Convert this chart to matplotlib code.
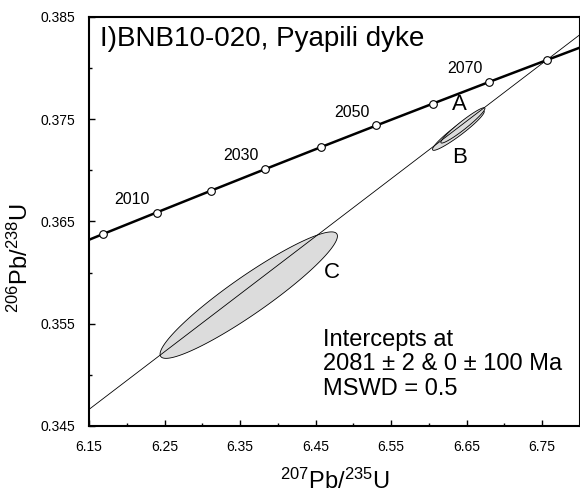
import numpy as np
import matplotlib
matplotlib.use('Agg')
import matplotlib.pyplot as plt
from matplotlib.ticker import MultipleLocator

plt.rcParams['font.family'] = ['Liberation Sans', 'DejaVu Sans']
plt.rcParams['mathtext.default'] = 'regular'

# concordia points (10 Ma steps)
conc_age = [1990, 2000, 2010, 2020, 2030, 2040, 2050, 2060, 2070, 2080, 2090]
conc_x = [6.0983, 6.1685, 6.2395, 6.3111, 6.3835, 6.4566, 6.5304, 6.6049, 6.6802, 6.7562, 6.8329]
conc_y = [0.36165, 0.36377, 0.36588, 0.36800, 0.37013, 0.37226, 0.37439, 0.37652, 0.37866, 0.38079, 0.38293]
marker_ages = [2000, 2010, 2020, 2030, 2040, 2050, 2060, 2070, 2080]
label_ages = [2010, 2030, 2050, 2070]

# discordia (0 Ma lower intercept)
disc_x = [6.10, 6.85]
disc_y = [0.3438, 0.3861]

# error ellipses: centre, semi-major vector, semi-minor vector (data units)
ell_names = ['C', 'B', 'A']
ell_cx = [6.3615, 6.639, 6.645]
ell_cy = [0.3578, 0.3739, 0.3744]
ell_ux = [0.1165, 0.034, 0.029]
ell_uy = [0.0060, 0.0019, 0.0017]
ell_vx = [-0.0145, -0.00394, -0.00326]
ell_vy = [0.00150, 0.00039, 0.00031]

lab_names = ['A', 'B', 'C']
lab_x = [6.641, 6.641, 6.471]
lab_y = [0.3764, 0.3713, 0.3600]

fig = plt.figure(figsize=(5.8, 5.0), dpi=100)
ax = fig.add_axes([0.1534, 0.148, 0.8466, 0.818])

t = np.linspace(0, 2 * np.pi, 200)
for i in range(len(ell_names)):
    ex = ell_cx[i] + ell_ux[i] * np.cos(t) + ell_vx[i] * np.sin(t)
    ey = ell_cy[i] + ell_uy[i] * np.cos(t) + ell_vy[i] * np.sin(t)
    ax.fill(ex, ey, facecolor='#dcdcdc', edgecolor='black', lw=0.6, zorder=2)

ax.plot(disc_x, disc_y, color='black', lw=0.6, zorder=3)
ax.plot(conc_x, conc_y, color='black', lw=1.8, zorder=4)

mx = [conc_x[conc_age.index(a)] for a in marker_ages]
my = [conc_y[conc_age.index(a)] for a in marker_ages]
ax.plot(mx, my, 'o', ms=5.5, mfc='white', mec='black', mew=0.8, zorder=5)

for a in label_ages:
    i = conc_age.index(a)
    ax.annotate(str(a), (conc_x[i], conc_y[i]), xytext=(-5, 4), textcoords='offset points',
                ha='right', va='bottom', fontsize=11.5)

for n, x, y in zip(lab_names, lab_x, lab_y):
    ax.text(x, y, n, ha='center', va='center', fontsize=16)

ax.text(0.022, 0.93, 'I)BNB10-020, Pyapili dyke', transform=ax.transAxes, fontsize=20, va='baseline')
ax.text(6.46, 0.3545, 'Intercepts at\n2081 \u00b1 2 & 0 \u00b1 100 Ma\nMSWD = 0.5',
        ha='left', va='top', fontsize=17, linespacing=1.15)

ax.set_xlim(6.15, 6.80)
ax.set_ylim(0.345, 0.385)
ax.xaxis.set_minor_locator(MultipleLocator(0.05))
ax.yaxis.set_minor_locator(MultipleLocator(0.005))
ax.set_xticks(np.arange(6.15, 6.80, 0.1))
ax.set_yticks(np.arange(0.345, 0.3851, 0.01))
ax.xaxis.set_major_formatter(plt.FuncFormatter(lambda v, p: f'{v:.2f}'))
ax.yaxis.set_major_formatter(plt.FuncFormatter(lambda v, p: f'{v:.3f}'))
ax.tick_params(which='both', direction='in', labelsize=10, width=1)
ax.tick_params(which='major', length=4)
ax.tick_params(which='minor', length=2.5)
ax.tick_params(axis='x', pad=10)
ax.tick_params(axis='y', pad=10)
for s in ax.spines.values():
    s.set_linewidth(1.5)

ax.set_xlabel('$^{207}$Pb/$^{235}$U', fontsize=17)
ax.set_ylabel('$^{206}$Pb/$^{238}$U', fontsize=17)
ax.xaxis.set_label_coords(0.5, -0.105)
ax.yaxis.set_label_coords(-0.115, 0.41)

fig.savefig('out.png', dpi=100)
